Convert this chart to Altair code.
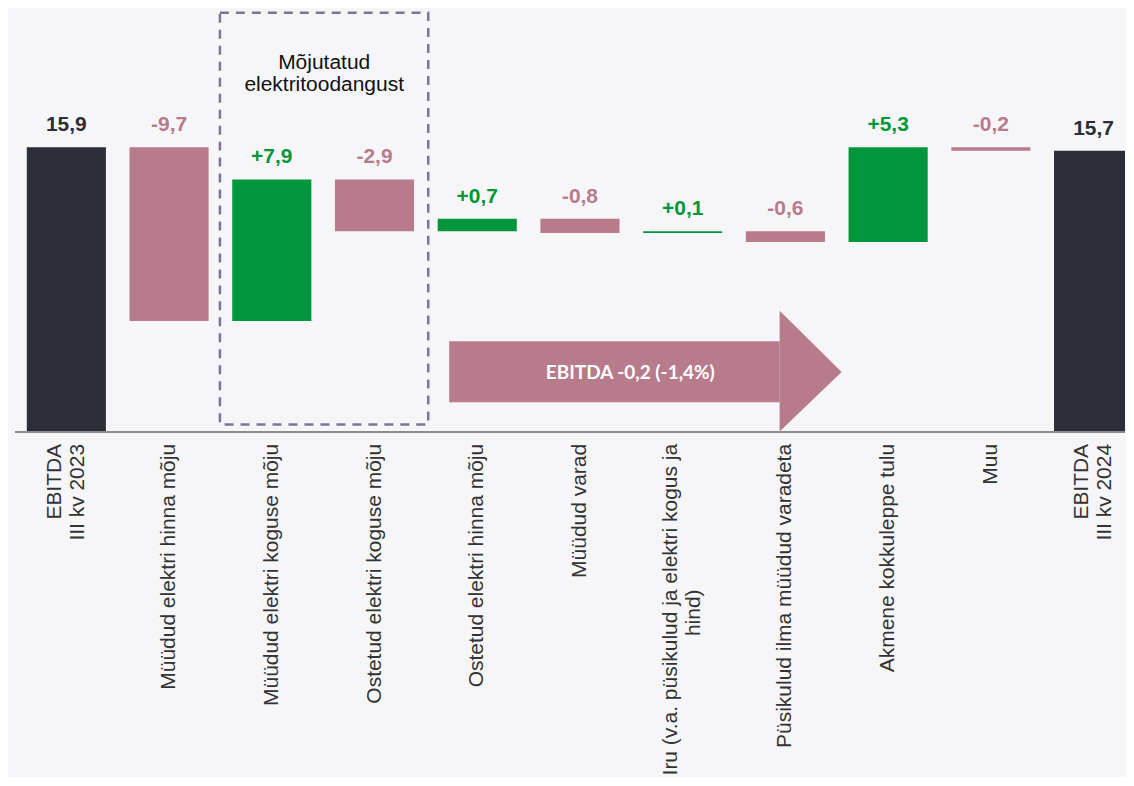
import altair as alt
import pandas as pd

# ---------------- data ----------------
categories = [
    "EBITDA|III kv 2023",
    "Müüdud elektri hinna mõju",
    "Müüdud elektri koguse mõju",
    "Ostetud elektri koguse mõju",
    "Ostetud elektri hinna mõju",
    "Müüdud varad",
    "Iru (v.a. püsikulud ja elektri kogus ja|hind)" + "\u00a0" * 25 + "\u200b",
    "Püsikulud ilma müüdud varadeta",
    "Akmene kokkuleppe tulu",
    "Muu",
    "EBITDA|III kv 2024",
]
values = [15.9, -9.7, 7.9, -2.9, 0.7, -0.8, 0.1, -0.6, 5.3, -0.2, 15.7]
kinds = ["total", "delta", "delta", "delta", "delta", "delta",
         "delta", "delta", "delta", "delta", "total"]
value_labels = ["15,9", "-9,7", "+7,9", "-2,9", "+0,7", "-0,8",
                "+0,1", "-0,6", "+5,3", "-0,2", "15,7"]

box_title = "Mõjutatud\nelektritoodangust"
arrow_text = "EBITDA -0,2 (-1,4%)"

# annotation geometry (data units)
box_x = [1.495, 3.523]
box_y = [0.42, 23.4]
arrow_body_x = [3.727, 6.944]
arrow_body_y = [1.66, 5.06]
arrow_head_x = [6.944, 7.547]
arrow_head_lo = [0.03, 3.34]
arrow_head_hi = [6.77, 3.34]
arrow_text_pos = (5.49, 3.3)
title_pos = (2.51, 20.29)

# ---------------- style ----------------
C_TOTAL = "#2b2e37"
C_NEG = "#b77b8b"
C_POS = "#00963c"
BG = "#f6f6f9"
AXIS_C = "#8c8c8c"
BOX_C = "#77779b"
FONT = "Liberation Sans"

W, H = 1112, 424
XMAX = 10.306
YMAX = 23.63
BAR_HALF = 0.385
LINE_H = 23

rows = []
run = 0.0
for i, (v, k, lab) in enumerate(zip(values, kinds, value_labels)):
    if k == "total":
        s, e = 0.0, v
        run = v
        col = C_TOTAL
    else:
        s, e = run, run + v
        run = e
        col = C_POS if v > 0 else C_NEG
    rows.append(dict(i=i, x0=i - BAR_HALF, x1=i + BAR_HALF, start=s, end=e,
                     top=max(s, e), label=lab, color=col, cat=categories[i],
                     nlines=categories[i].count("|") + 1))
df = pd.DataFrame(rows)

xs = alt.Scale(domain=[-0.5, XMAX], nice=False, zero=False)
ys = alt.Scale(domain=[0, YMAX], nice=False, zero=False)

bars = alt.Chart(df).mark_bar(clip=True).encode(
    x=alt.X("x0:Q", scale=xs, axis=None),
    x2="x1:Q",
    y=alt.Y("start:Q", scale=ys, axis=None),
    y2="end:Q",
    color=alt.Color("color:N", scale=None),
)

labels = alt.Chart(df).mark_text(
    font=FONT, fontSize=21, fontWeight="bold", baseline="alphabetic", dy=-16
).encode(
    x=alt.X("i:Q", scale=xs, axis=None),
    y=alt.Y("top:Q", scale=ys, axis=None),
    text="label:N",
    color=alt.Color("color:N", scale=None),
)


def cat_layer(n):
    return alt.Chart(df).transform_filter(alt.datum.nlines == n).mark_text(
        font=FONT, fontSize=21, color="#333333", angle=270, align="right",
        baseline="middle", lineBreak="|", lineHeight=LINE_H,
        dy=-(n - 1) * LINE_H / 2,
    ).encode(
        x=alt.X("i:Q", scale=xs, axis=None),
        y=alt.value(H + 12),
        text="cat:N",
    )


cat1 = cat_layer(1)
cat2 = cat_layer(2)

box_df = pd.DataFrame({"x0": [box_x[0]], "x1": [box_x[1]], "y0": [box_y[0]], "y1": [box_y[1]]})
box = alt.Chart(box_df).mark_rect(
    filled=False, stroke=BOX_C, strokeWidth=2.5, strokeDash=[9, 7]
).encode(
    x=alt.X("x0:Q", scale=xs, axis=None), x2="x1:Q",
    y=alt.Y("y0:Q", scale=ys, axis=None), y2="y1:Q",
)

title_df = pd.DataFrame({"x": [title_pos[0]], "y": [title_pos[1]], "t": [box_title]})
title = alt.Chart(title_df).mark_text(
    font=FONT, fontSize=21, color="#111111", lineBreak="\n", lineHeight=23,
    baseline="alphabetic", align="center"
).encode(
    x=alt.X("x:Q", scale=xs, axis=None),
    y=alt.Y("y:Q", scale=ys, axis=None),
    text="t:N",
)

body_df = pd.DataFrame({"x0": [arrow_body_x[0]], "x1": [arrow_body_x[1]],
                        "y0": [arrow_body_y[0]], "y1": [arrow_body_y[1]]})
arrow_body = alt.Chart(body_df).mark_rect(color=C_NEG).encode(
    x=alt.X("x0:Q", scale=xs, axis=None), x2="x1:Q",
    y=alt.Y("y0:Q", scale=ys, axis=None), y2="y1:Q",
)

head_df = pd.DataFrame({"x": arrow_head_x, "lo": arrow_head_lo, "hi": arrow_head_hi})
arrow_head = alt.Chart(head_df).mark_area(color=C_NEG, opacity=1).encode(
    x=alt.X("x:Q", scale=xs, axis=None),
    y=alt.Y("hi:Q", scale=ys, axis=None),
    y2="lo:Q",
)

atext_df = pd.DataFrame({"x": [arrow_text_pos[0]], "y": [arrow_text_pos[1]], "t": [arrow_text]})
atext = alt.Chart(atext_df).mark_text(
    font="Lato", fontSize=19, fontWeight="bold", color="white", baseline="middle"
).encode(
    x=alt.X("x:Q", scale=xs, axis=None),
    y=alt.Y("y:Q", scale=ys, axis=None),
    text="t:N",
)

axis_df = pd.DataFrame({"a": [-0.5], "b": [XMAX], "y": [0.0]})
axis_line = alt.Chart(axis_df).mark_rule(color=AXIS_C, strokeWidth=2).encode(
    x=alt.X("a:Q", scale=xs, axis=None), x2="b:Q",
    y=alt.Y("y:Q", scale=ys, axis=None),
)

tick_df = pd.DataFrame({"b": [i - 0.5 for i in range(len(categories) + 1)]})
ticks = alt.Chart(tick_df).mark_rule(color=AXIS_C, strokeWidth=1.5, clip=True).encode(
    x=alt.X("b:Q", scale=xs, axis=None),
    y=alt.value(H),
    y2=alt.value(H + 7),
)

chart = alt.layer(box, arrow_body, arrow_head, bars, axis_line, ticks, labels,
                  title, atext, cat1, cat2).properties(
    width=W, height=H, background=BG,
    padding={"left": 6, "top": 0, "right": 0, "bottom": 0},
).configure_view(strokeWidth=0)

chart.save("out.html", embed_options={"renderer": "svg", "actions": False})
